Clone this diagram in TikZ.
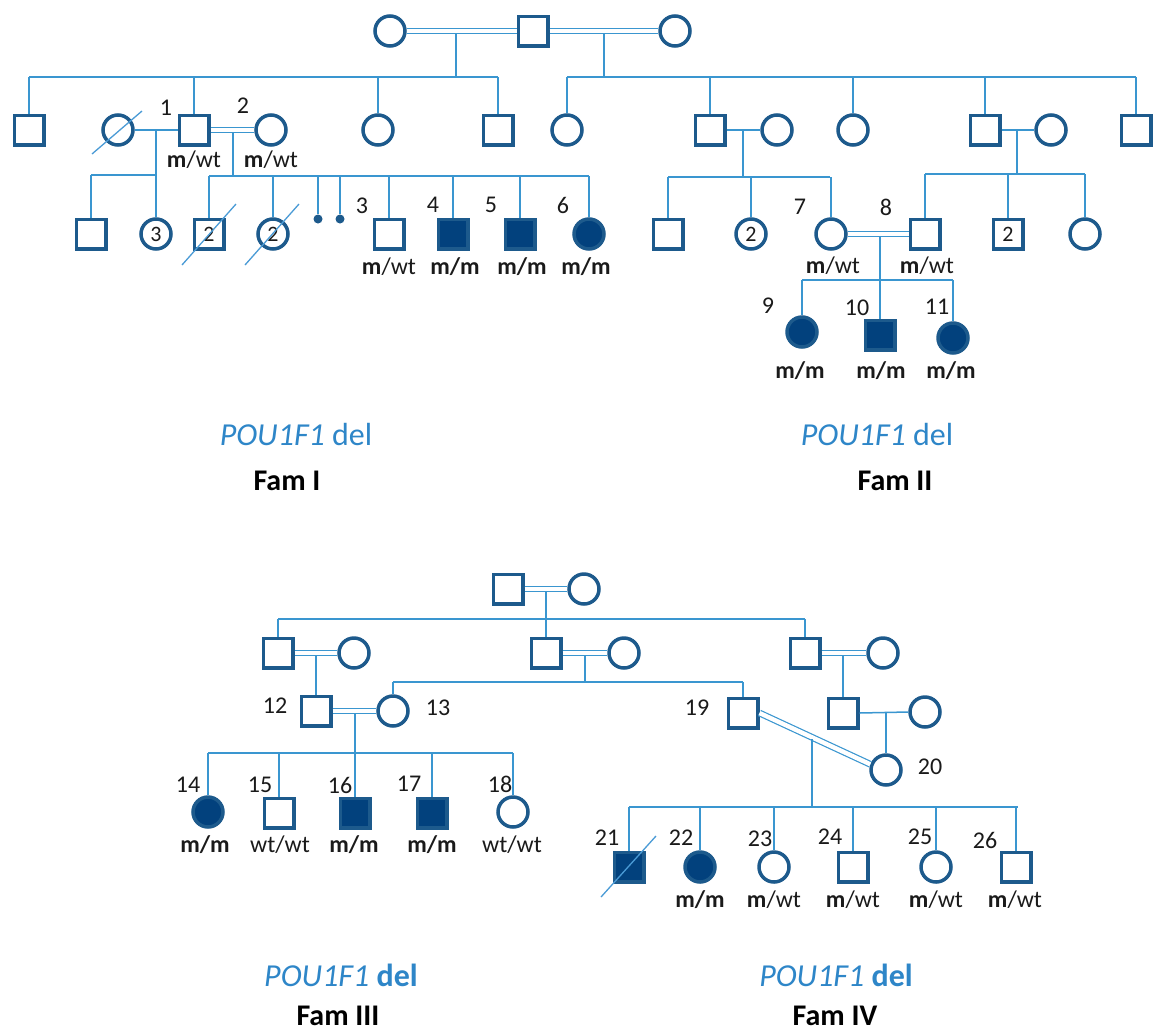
\documentclass[tikz,border=0pt]{standalone}
\usepackage{fontspec}
\setmainfont{Carlito}
\usetikzlibrary{calc}
\definecolor{symb}{HTML}{1D5A8C}
\definecolor{aff}{HTML}{02417D}
\definecolor{lnb}{HTML}{3A96D0}
\definecolor{txb}{HTML}{2E86C8}
\definecolor{slashc}{HTML}{4A9BD6}
\definecolor{txk}{HTML}{1A1A1A}
\tikzset{
  sq/.style={rectangle, draw=symb, line width=3.5pt, minimum size=29.5pt, inner sep=0pt, fill=white, text=txk, font=\fontsize{22}{24}\selectfont},
  ci/.style={circle, draw=symb, line width=3.5pt, minimum size=30pt, inner sep=0pt, fill=white, text=txk, font=\fontsize{22}{24}\selectfont},
  affd/.style={fill=aff},
  conn/.style={draw=lnb, line width=1.5pt},
  dbl/.style={draw=lnb, line width=1.2pt, double=white, double distance=4.4pt},
  slashl/.style={draw=slashc, line width=1.3pt},
  num/.style={font=\fontsize{24}{26}\selectfont, text=txk, inner sep=0pt},
  geno/.style={font=\fontsize{24}{26}\selectfont, text=txk, anchor=base, inner sep=0pt},
  dotn/.style={circle, fill=symb, minimum size=9pt, inner sep=0pt},
  genel/.style={font=\fontsize{32}{34}\selectfont, text=txb, anchor=base, inner sep=0pt},
  faml/.style={font=\fontsize{30}{32}\selectfont\bfseries, text=black, anchor=base, inner sep=0pt}
}
\begin{document}
\begin{tikzpicture}[x=1pt,y=-1pt]
\useasboundingbox (0,0) rectangle (1153,1034);
\fill[white] (0,0) rectangle (1153,1034);

% ---------------- Fam I / II : generation 1
\node[ci] (g1a) at (390,31) {};
\node[sq] (g1b) at (533,31) {};
\node[ci] (g1c) at (675,31) {};
\draw[dbl] (g1a.east) -- (g1b.west);
\draw[dbl] (g1b.east) -- (g1c.west);
\coordinate (j1) at (456,34);
\coordinate (s1L) at (29,77);
\coordinate (s1R) at (498,77);
\coordinate (j2) at (604,34);
\coordinate (s2L) at (567,77);
\coordinate (s2R) at (1136,77);
\draw[conn] (j1) -- (j1 |- s1L);
\draw[conn] (j2) -- (j2 |- s2L);
\draw[conn] (s1L) -- (s1R);
\draw[conn] (s2L) -- (s2R);

% generation 2 left
\node[sq] (a1) at (29,130) {};
\node[ci] (a2) at (118,130) {};
\node[sq] (p1) at (194,130) {};
\node[ci] (p2) at (271,130) {};
\node[ci] (a3) at (378,130) {};
\node[sq] (a4) at (498,130) {};
\foreach \n in {a1,p1,a3,a4} \draw[conn] (\n.north) -- (\n.north |- s1L);

% generation 2 right
\node[ci] (b1) at (567,130) {};
\node[sq] (b2) at (710,130) {};
\node[ci] (b3) at (777,130) {};
\node[ci] (b4) at (853,130) {};
\node[sq] (b5) at (985,130) {};
\node[ci] (b6) at (1051,130) {};
\node[sq] (b7) at (1136,130) {};
\foreach \n in {b1,b2,b4,b5,b7} \draw[conn] (\n.north) -- (\n.north |- s2L);

% Fam I generation 3 (first marriage)
\draw[conn] (a2.east) -- (p1.west);
\coordinate (j3) at (156,130);
\node[sq] (c1) at (91,234) {};
\node[ci] (c2) at (156,234) {3};
\coordinate (s3L) at (91,175);
\draw[conn] (j3) -- (c2.north);
\draw[conn] (s3L) -- (j3 |- s3L);
\draw[conn] (c1.north) -- (c1.north |- s3L);

% Fam I generation 3 (second marriage)
\draw[dbl] (p1.east) -- (p2.west);
\coordinate (j4) at (233,132.5);
\coordinate (s4L) at (209,176);
\coordinate (s4R) at (589,176);
\draw[conn] (j4) -- (j4 |- s4L);
\draw[conn] (s4L) -- (s4R);
\node[sq] (d1) at (209,234) {2};
\node[ci] (d2) at (273,234) {2};
\node[dotn] (dt1) at (318,219) {};
\node[dotn] (dt2) at (340,219) {};
\node[sq] (d3) at (389,234) {};
\node[sq,affd] (d4) at (453,234) {};
\node[sq,affd] (d5) at (520,234) {};
\node[ci,affd] (d6) at (589,234) {};
\foreach \n in {d1,d2,dt1,dt2,d3,d4,d5,d6} \draw[conn] (\n.north) -- (\n.north |- s4L);

% slashes (deceased)
\draw[slashl] ($(a2)+(-26,24)$) -- ($(a2)+(24,-19)$);
\draw[slashl] ($(d1)+(-27,31)$) -- ($(d1)+(27,-30)$);
\draw[slashl] ($(d2)+(-28,31)$) -- ($(d2)+(26,-30)$);

% Fam I labels
\node[num] (n1) at (166,108) {1};
\node[num] (n2) at (243,106) {2};
\node[num] (n3) at (362,206) {3};
\node[num] (n4) at (433,205) {4};
\node[num] (n5) at (491,205) {5};
\node[num] (n6) at (563,205) {6};
\node[geno] (gp1) at (194,167) {\textbf{m}/wt};
\node[geno] (gp2) at (271,167) {\textbf{m}/wt};
\node[geno] (gd3) at (389,274) {\textbf{m}/wt};
\node[geno] (gd4) at (455,274) {\textbf{m/m}};
\node[geno] (gd5) at (522,274) {\textbf{m/m}};
\node[geno] (gd6) at (586,274) {\textbf{m/m}};

% Fam II generation 3
\draw[conn] (b2.east) -- (b3.west);
\coordinate (j5) at (743,130);
\coordinate (s5L) at (668,177);
\coordinate (s5R) at (830,177);
\draw[conn] (j5) -- (j5 |- s5L);
\draw[conn] (s5L) -- (s5R);
\node[sq] (e1) at (668,234) {};
\node[ci] (e2) at (751,234) {2};
\node[ci] (p7) at (831,234) {};
\foreach \n in {e1,e2,p7} \draw[conn] (\n.north) -- (\n.north |- s5L);

\draw[conn] (b5.east) -- (b6.west);
\coordinate (j6) at (1017,130);
\coordinate (s6L) at (925,174);
\coordinate (s6R) at (1085,174);
\draw[conn] (j6) -- (j6 |- s6L);
\draw[conn] (s6L) -- (s6R);
\node[sq] (p8) at (925,234) {};
\node[sq] (e3) at (1008,234) {2};
\node[ci] (e4) at (1085,234) {};
\foreach \n in {p8,e3,e4} \draw[conn] (\n.north) -- (\n.north |- s6L);

% Fam II generation 4
\draw[dbl] (p7.east) -- (p8.west);
\coordinate (j7) at (880,236.5);
\coordinate (s7L) at (802,280);
\coordinate (s7R) at (953,280);
\draw[conn] (j7) -- (j7 |- s7L);
\draw[conn] (s7L) -- (s7R);
\node[ci,affd] (f9) at (802,332) {};
\node[sq,affd] (f10) at (880,335) {};
\node[ci,affd] (f11) at (953,338) {};
\foreach \n in {f9,f10,f11} \draw[conn] (\n.north) -- (\n.north |- s7L);

\node[num] (n7) at (800,207) {7};
\node[num] (n8) at (886,207) {8};
\node[num] (n9) at (768,306) {9};
\node[num] (n10) at (857,308) {10};
\node[num] (n11) at (937,307) {11};
\node[geno] (gp7) at (833,273) {\textbf{m}/wt};
\node[geno] (gp8) at (927,273) {\textbf{m}/wt};
\node[geno] (gf9) at (800,378) {\textbf{m/m}};
\node[geno] (gf10) at (881,378) {\textbf{m/m}};
\node[geno] (gf11) at (951,378) {\textbf{m/m}};

% Fam I / II titles
\node[genel] (t1a) at (296,445) {\textit{POU1F1} del};
\node[faml] (t1b) at (287,490) {Fam I};
\node[genel] (t2a) at (877,445) {\textit{POU1F1} del};
\node[faml] (t2b) at (895,490) {Fam II};

% ---------------- Fam III / IV
\node[sq] (t3a) at (508,589) {};
\node[ci] (t3b) at (584,589) {};
\draw[dbl] (t3a.east) -- (t3b.west);
\coordinate (j8) at (546,592);
\coordinate (s8L) at (278,619);
\coordinate (s8R) at (805,619);
\draw[conn] (s8L) -- (s8R);

\node[sq] (h1) at (278,653) {};
\node[ci] (h1w) at (354,653) {};
\node[sq] (h2) at (546,653) {};
\node[ci] (h2w) at (624,653) {};
\node[sq] (h3) at (805,653) {};
\node[ci] (h3w) at (883,653) {};
\draw[conn] (j8) -- (h2.north);
\draw[conn] (h1.north) -- (h1.north |- s8L);
\draw[conn] (h3.north) -- (h3.north |- s8L);
\draw[dbl] (h1.east) -- (h1w.west);
\draw[dbl] (h2.east) -- (h2w.west);
\draw[dbl] (h3.east) -- (h3w.west);

\node[sq] (p12) at (316,711) {};
\node[ci] (p13) at (393,711) {};
\node[sq] (p19) at (743,713) {};
\node[sq] (k1) at (843,713) {};
\node[ci] (k2) at (925,712) {};
\node[ci] (p20) at (886,770) {};
\coordinate (j9) at (316,656);
\draw[conn] (j9) -- (p12.north);
\coordinate (j10) at (585,656);
\coordinate (s9L) at (393,682);
\coordinate (s9R) at (743,682);
\draw[conn] (j10) -- (j10 |- s9L);
\draw[conn] (s9L) -- (s9R);
\draw[conn] (p13.north) -- (p13.north |- s9L);
\draw[conn] (p19.north) -- (p19.north |- s9L);
\coordinate (j11) at (843,656);
\draw[conn] (j11) -- (k1.north);
\draw[conn] (k1.east) -- (k2.west);
\coordinate (j12) at (886,712);
\draw[conn] (j12) -- (p20.north);

% Fam III children
\draw[dbl] (p12.east) -- (p13.west);
\coordinate (j13) at (355,714);
\coordinate (s10L) at (208,753);
\coordinate (s10R) at (513,753);
\draw[conn] (s10L) -- (s10R);
\node[ci,affd] (m14) at (208,812) {};
\node[sq] (m15) at (279,813) {};
\node[sq,affd] (m16) at (355,813) {};
\node[sq,affd] (m17) at (432,813) {};
\node[ci] (m18) at (513,812) {};
\draw[conn] (j13) -- (m16.north);
\foreach \n in {m14,m15,m17,m18} \draw[conn] (\n.north) -- (\n.north |- s10L);

% Fam IV children
\draw[dbl] (p19.east) -- (p20.160);
\coordinate (j14) at (812,739);
\coordinate (s11L) at (629,807);
\coordinate (s11R) at (1018,807);
\draw[conn] (j14) -- (j14 |- s11L);
\draw[conn] (s11L) -- (s11R);
\node[sq,affd] (q21) at (629,867) {};
\node[ci,affd] (q22) at (700,867) {};
\node[ci] (q23) at (774,867) {};
\node[sq] (q24) at (853,867) {};
\node[ci] (q25) at (936,867) {};
\node[sq] (q26) at (1016,867) {};
\foreach \n in {q21,q22,q23,q24,q25,q26} \draw[conn] (\n.north) -- (\n.north |- s11L);
\draw[slashl] ($(q21)+(-28,30)$) -- ($(q21)+(27,-31)$);

% Fam III / IV labels
\node[num] (n12) at (275,706) {12};
\node[num] (n13) at (438,708) {13};
\node[num] (n14) at (188,785) {14};
\node[num] (n15) at (260,785) {15};
\node[num] (n16) at (340,785) {16};
\node[num] (n17) at (409,784) {17};
\node[num] (n18) at (500,784) {18};
\node[num] (n19) at (697,708) {19};
\node[num] (n20) at (930,767) {20};
\node[num] (n21) at (607,838) {21};
\node[num] (n22) at (681,838) {22};
\node[num] (n23) at (760,839) {23};
\node[num] (n24) at (830,837) {24};
\node[num] (n25) at (920,837) {25};
\node[num] (n26) at (985,840) {26};
\node[geno] (gm14) at (205,852) {\textbf{m/m}};
\node[geno] (gm15) at (280,852) {wt/wt};
\node[geno] (gm16) at (354,852) {\textbf{m/m}};
\node[geno] (gm17) at (432,852) {\textbf{m/m}};
\node[geno] (gm18) at (512,852) {wt/wt};
\node[geno] (gq22) at (700,907) {\textbf{m/m}};
\node[geno] (gq23) at (774,907) {\textbf{m}/wt};
\node[geno] (gq24) at (853,907) {\textbf{m}/wt};
\node[geno] (gq25) at (936,907) {\textbf{m}/wt};
\node[geno] (gq26) at (1015,907) {\textbf{m}/wt};

\node[genel] (t3l) at (341,986) {\textit{POU1F1} \textbf{del}};
\node[faml] (t3f) at (338,1025) {Fam III};
\node[genel] (t4l) at (836,986) {\textit{POU1F1} \textbf{del}};
\node[faml] (t4f) at (835,1025) {Fam IV};
\end{tikzpicture}
\end{document}
